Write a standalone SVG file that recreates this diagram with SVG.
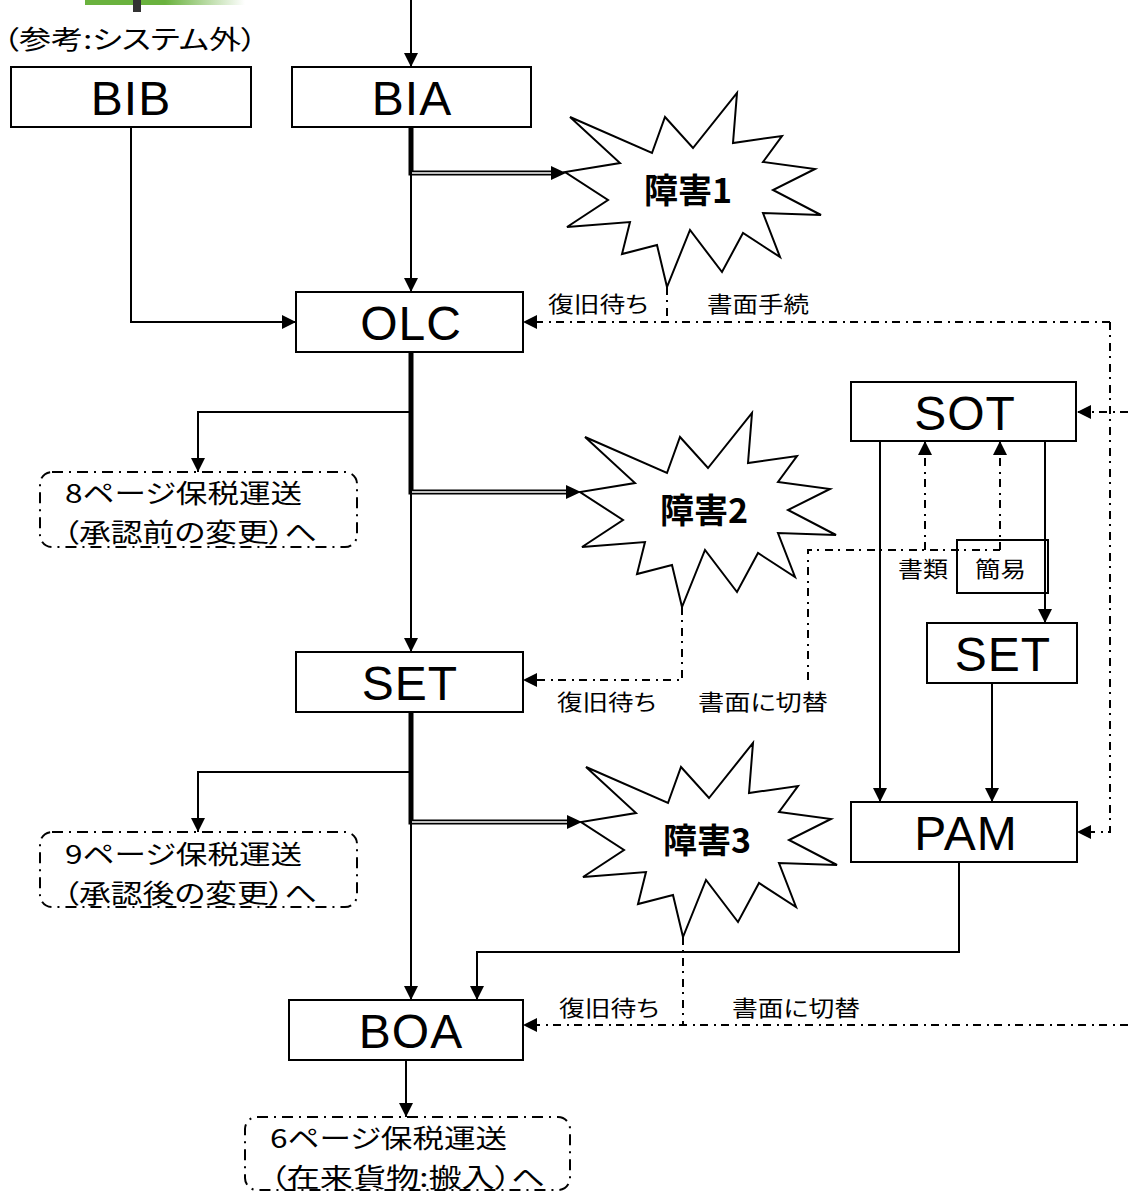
<svg xmlns="http://www.w3.org/2000/svg" width="1128" height="1192" viewBox="0 0 1128 1192">
<defs>
<linearGradient id="gbar" x1="85" y1="0" x2="245" y2="0" gradientUnits="userSpaceOnUse">
<stop offset="0" stop-color="#6ab23e"/><stop offset="0.5" stop-color="#6ab23e"/><stop offset="1" stop-color="#ffffff"/>
</linearGradient>
<marker id="ah" markerUnits="userSpaceOnUse" markerWidth="14" markerHeight="14" refX="14" refY="7" orient="auto"><path d="M0,0 L14,7 L0,14 z" fill="#000"/></marker>
<marker id="ahd" markerUnits="userSpaceOnUse" markerWidth="15" markerHeight="14" refX="0" refY="7" orient="auto"><path d="M0,0 L15,7 L0,14 z" fill="#000"/></marker>
<polygon id="burst" points="5,-55 87,-19 100,-55 128,-24 172,-79 168,-29 217,-36 198,-10 250,-3 208,18 256,43 198,41 215,85 178,61 157,100 125,58 102,115 92,73 57,82 65,50 2,55 43,28 0,0 55,-9"/>
<style>
.box{fill:#fff;stroke:#000;stroke-width:2}
.lbl{font-family:"Liberation Sans",Arial,sans-serif;font-size:48px;letter-spacing:1px;text-anchor:middle}
.ln{fill:none;stroke:#000;stroke-width:2}
.dd{fill:none;stroke:#000;stroke-width:2;stroke-dasharray:8 5 2 6}
.dbo{fill:none;stroke:#000;stroke-width:5}
.dbi{fill:none;stroke:#fff;stroke-width:1.5}
.jp{font-family:"Noto Sans CJK JP","Noto Sans",sans-serif;font-size:22px;font-feature-settings:"palt"}
.ref{fill:#fff;stroke:#000;stroke-width:2;stroke-dasharray:11 6 2 6}
.rt{font-family:"Noto Sans CJK JP","Noto Sans",sans-serif;font-size:26px;font-feature-settings:"palt"}
.bt{font-family:"Noto Sans CJK JP","Noto Sans",sans-serif;font-size:34px;font-weight:bold;text-anchor:middle}
.burst{fill:#fff;stroke:#000;stroke-width:2}
</style>
</defs>
<rect width="1128" height="1192" fill="#fff"/>
<g id="header">
<rect x="85" y="0" width="160" height="5" fill="url(#gbar)"/>
<rect x="133" y="0" width="8" height="12" fill="#333"/>
<text class="rt" x="3" y="49" font-size="26" textLength="254" lengthAdjust="spacingAndGlyphs">（参考:システム外）</text>
</g>
<g id="connectors">
<path class="dbo" d="M411,127 V173 H551" marker-end="url(#ahd)"/>
<path class="dbi" d="M411,127 V173 H551"/>
<path class="dbo" d="M411,352 V492 H566" marker-end="url(#ahd)"/>
<path class="dbi" d="M411,352 V492 H566"/>
<path class="dbo" d="M411,712 V822 H567" marker-end="url(#ahd)"/>
<path class="dbi" d="M411,712 V822 H567"/>
<path class="ln" d="M411,0 V67" marker-end="url(#ah)"/>
<path class="ln" d="M411,127 V292" marker-end="url(#ah)"/>
<path class="ln" d="M131,127 V322 H296" marker-end="url(#ah)"/>
<path class="ln" d="M411,352 V652" marker-end="url(#ah)"/>
<path class="ln" d="M411,412 H198 V472" marker-end="url(#ah)"/>
<path class="ln" d="M411,712 V1000" marker-end="url(#ah)"/>
<path class="ln" d="M411,772 H198 V832" marker-end="url(#ah)"/>
<path class="ln" d="M406,1060 V1117" marker-end="url(#ah)"/>
<path class="ln" d="M880,441 V802" marker-end="url(#ah)"/>
<path class="ln" d="M1045,441 V623" marker-end="url(#ah)"/>
<path class="ln" d="M992,683 V802" marker-end="url(#ah)"/>
<path class="ln" d="M959,862 V952 H477 V1000" marker-end="url(#ah)"/>
<path class="dd" d="M667,287 V322"/>
<path class="dd" d="M1110,322 H523" marker-end="url(#ah)"/>
<path class="dd" d="M1110,322 V832 H1077" marker-end="url(#ah)"/>
<path class="dd" d="M1128,412 H1077" marker-end="url(#ah)"/>
<path class="dd" d="M682,607 V680 H523" marker-end="url(#ah)"/>
<path class="dd" d="M808,680 V550 H1000"/>
<path class="dd" d="M925,550 V441" marker-end="url(#ah)"/>
<path class="dd" d="M1000,550 V441" marker-end="url(#ah)"/>
<path class="dd" d="M683,937 V1025"/>
<path class="dd" d="M1128,1025 H523" marker-end="url(#ah)"/>
<text class="jp" x="548" y="312" textLength="100" lengthAdjust="spacingAndGlyphs">復旧待ち</text>
<text class="jp" x="707" y="312" textLength="102" lengthAdjust="spacingAndGlyphs">書面手続</text>
<text class="jp" x="557" y="710" textLength="99" lengthAdjust="spacingAndGlyphs">復旧待ち</text>
<text class="jp" x="698" y="710" textLength="130" lengthAdjust="spacingAndGlyphs">書面に切替</text>
<text class="jp" x="559" y="1016" textLength="100" lengthAdjust="spacingAndGlyphs">復旧待ち</text>
<text class="jp" x="732" y="1016" textLength="128" lengthAdjust="spacingAndGlyphs">書面に切替</text>
<text class="jp" x="898" y="577" textLength="50" lengthAdjust="spacingAndGlyphs">書類</text>
</g>
<g id="kan">
<rect x="957" y="540" width="91" height="53" fill="none" stroke="#000" stroke-width="2"/>
<text class="jp" x="975" y="577" textLength="51" lengthAdjust="spacingAndGlyphs">簡易</text>
</g>
<g id="BIB"><rect class="box" x="11" y="67" width="240" height="60"/><text class="lbl" x="131" y="115">BIB</text></g>
<g id="BIA"><rect class="box" x="292" y="67" width="239" height="60"/><text class="lbl" x="412" y="115">BIA</text></g>
<g id="OLC"><rect class="box" x="296" y="292" width="227" height="60"/><text class="lbl" x="411" y="340">OLC</text></g>
<g id="SET1"><rect class="box" x="296" y="652" width="227" height="60"/><text class="lbl" x="410" y="700">SET</text></g>
<g id="BOA"><rect class="box" x="289" y="1000" width="234" height="60"/><text class="lbl" x="411" y="1048">BOA</text></g>
<g id="SOT"><rect class="box" x="851" y="382" width="225" height="59"/><text class="lbl" x="965" y="430">SOT</text></g>
<g id="SET2"><rect class="box" x="927" y="623" width="150" height="60"/><text class="lbl" x="1003" y="671">SET</text></g>
<g id="PAM"><rect class="box" x="851" y="802" width="226" height="60"/><text class="lbl" x="966" y="850">PAM</text></g>
<g id="ref8"><rect class="ref" x="40" y="472" width="317" height="75" rx="12"/>
<text class="rt" x="65" y="503" textLength="237" lengthAdjust="spacingAndGlyphs">8ページ保税運送</text>
<text class="rt" x="63" y="542" textLength="254" lengthAdjust="spacingAndGlyphs">（承認前の変更）へ</text></g>
<g id="ref9"><rect class="ref" x="40" y="832" width="317" height="75" rx="12"/>
<text class="rt" x="65" y="864" textLength="237" lengthAdjust="spacingAndGlyphs">9ページ保税運送</text>
<text class="rt" x="63" y="903" textLength="254" lengthAdjust="spacingAndGlyphs">（承認後の変更）へ</text></g>
<g id="ref6"><rect class="ref" x="245" y="1117" width="325" height="73" rx="12"/>
<text class="rt" x="270" y="1148" textLength="237" lengthAdjust="spacingAndGlyphs">6ページ保税運送</text>
<text class="rt" x="270" y="1187" textLength="275" lengthAdjust="spacingAndGlyphs">（在来貨物:搬入）へ</text></g>
<g id="fault1" transform="translate(565,172)"><use href="#burst" class="burst"/><text class="bt" x="123" y="31">障害1</text></g>
<g id="fault2" transform="translate(580,492)"><use href="#burst" class="burst"/><text class="bt" x="124" y="31">障害2</text></g>
<g id="fault3" transform="translate(581,822)"><use href="#burst" class="burst"/><text class="bt" x="126" y="31">障害3</text></g>
</svg>
